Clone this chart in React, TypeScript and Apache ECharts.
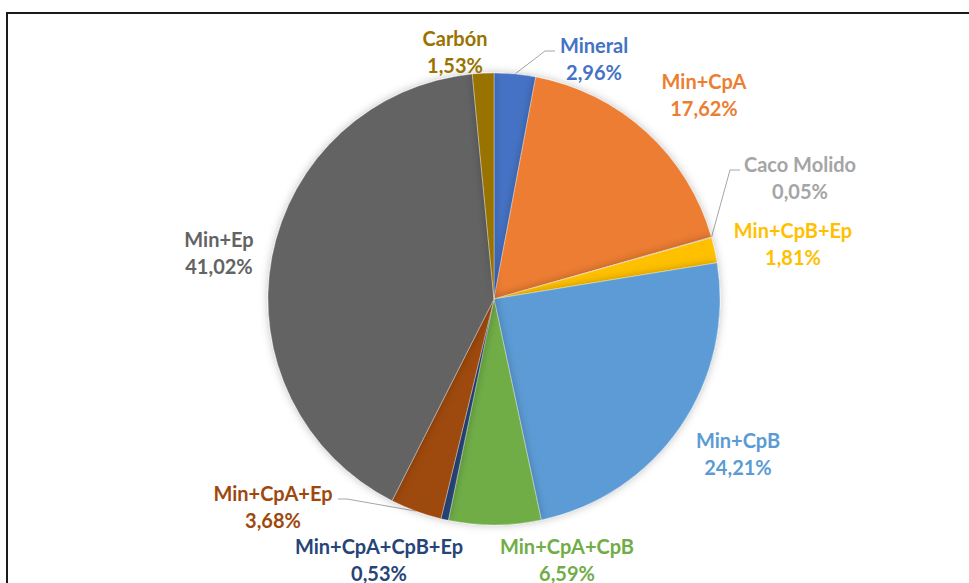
import React, { useEffect, useRef } from "react";
import * as echarts from "echarts";

const categories = [
  "Mineral",
  "Min+CpA",
  "Caco Molido",
  "Min+CpB+Ep",
  "Min+CpB",
  "Min+CpA+CpB",
  "Min+CpA+CpB+Ep",
  "Min+CpA+Ep",
  "Min+Ep",
  "Carbón",
];
const values = [2.96, 17.62, 0.05, 1.81, 24.21, 6.59, 0.53, 3.68, 41.02, 1.53];
const colors = [
  "#4472C4",
  "#ED7D31",
  "#A5A5A5",
  "#FFC000",
  "#5B9BD5",
  "#70AD47",
  "#264478",
  "#9E480E",
  "#636363",
  "#997300",
];
// label block centers (layout only)
const labelX = [594, 704, 800, 793, 738, 567, 379, 273, 219, 455];
const labelY = [58, 94, 177, 243, 453, 559, 559, 506, 252, 51];
// leader line elbows: [elbowX, elbowY, endX] or null
const leaders: (number[] | null)[] = [
  [545, 51, 555],
  null,
  [730, 170, 740],
  null,
  null,
  null,
  null,
  [347, 499, 338],
  null,
  null,
];

const fmt = (v: number) => v.toFixed(2).replace(".", ",") + "%";

export default function App() {
  const ref = useRef<HTMLDivElement>(null);
  useEffect(() => {
    if (!ref.current) return;
    const chart = echarts.init(ref.current, undefined, { renderer: "svg" });
    const data = categories.map((name, i) => ({
      name,
      value: values[i],
      itemStyle: { color: colors[i] },
      label: { color: colors[i] },
      labelLine: { show: !!leaders[i] },
    }));
    chart.setOption({
      animation: false,
      backgroundColor: "#ffffff",
      graphic: [
        {
          type: "rect",
          shape: { x: 7, y: 13, width: 1000, height: 1000 },
          style: { fill: "none", stroke: "#1a1a1a", lineWidth: 2 },
          z: 10,
        },
      ],
      series: [
        {
          type: "pie",
          center: [494, 299],
          radius: 226,
          startAngle: 90,
          clockwise: true,
          avoidLabelOverlap: false,
          itemStyle: {
            borderColor: "rgba(255,255,255,0.6)",
            borderWidth: 0.5,
            shadowBlur: 8,
            shadowColor: "rgba(0,0,0,0.25)",
          },
          label: {
            show: true,
            position: "outside",
            formatter: (p: any) => p.name + "\n" + fmt(p.value),
            fontFamily: "Lato, Liberation Sans, Arial, sans-serif",
            fontWeight: "bold",
            fontSize: 20,
            lineHeight: 27,
            align: "center",
          },
          labelLine: {
            show: false,
            lineStyle: { color: "#A6A6A6", width: 1 },
          },
          labelLayout: (params: any) => {
            const i = params.dataIndex;
            const res: any = {
              x: labelX[i],
              y: labelY[i],
              align: "center",
              verticalAlign: "middle",
            };
            const l = leaders[i];
            if (l && params.labelLinePoints) {
              const start = params.labelLinePoints[0];
              res.labelLinePoints = [start, [l[0], l[1]], [l[2], l[1]]];
            }
            return res;
          },
          data,
        },
      ],
    });
    return () => chart.dispose();
  }, []);
  return (
    <div
      ref={ref}
      style={{ position: "fixed", left: 0, top: 0, width: 969, height: 583 }}
    />
  );
}
